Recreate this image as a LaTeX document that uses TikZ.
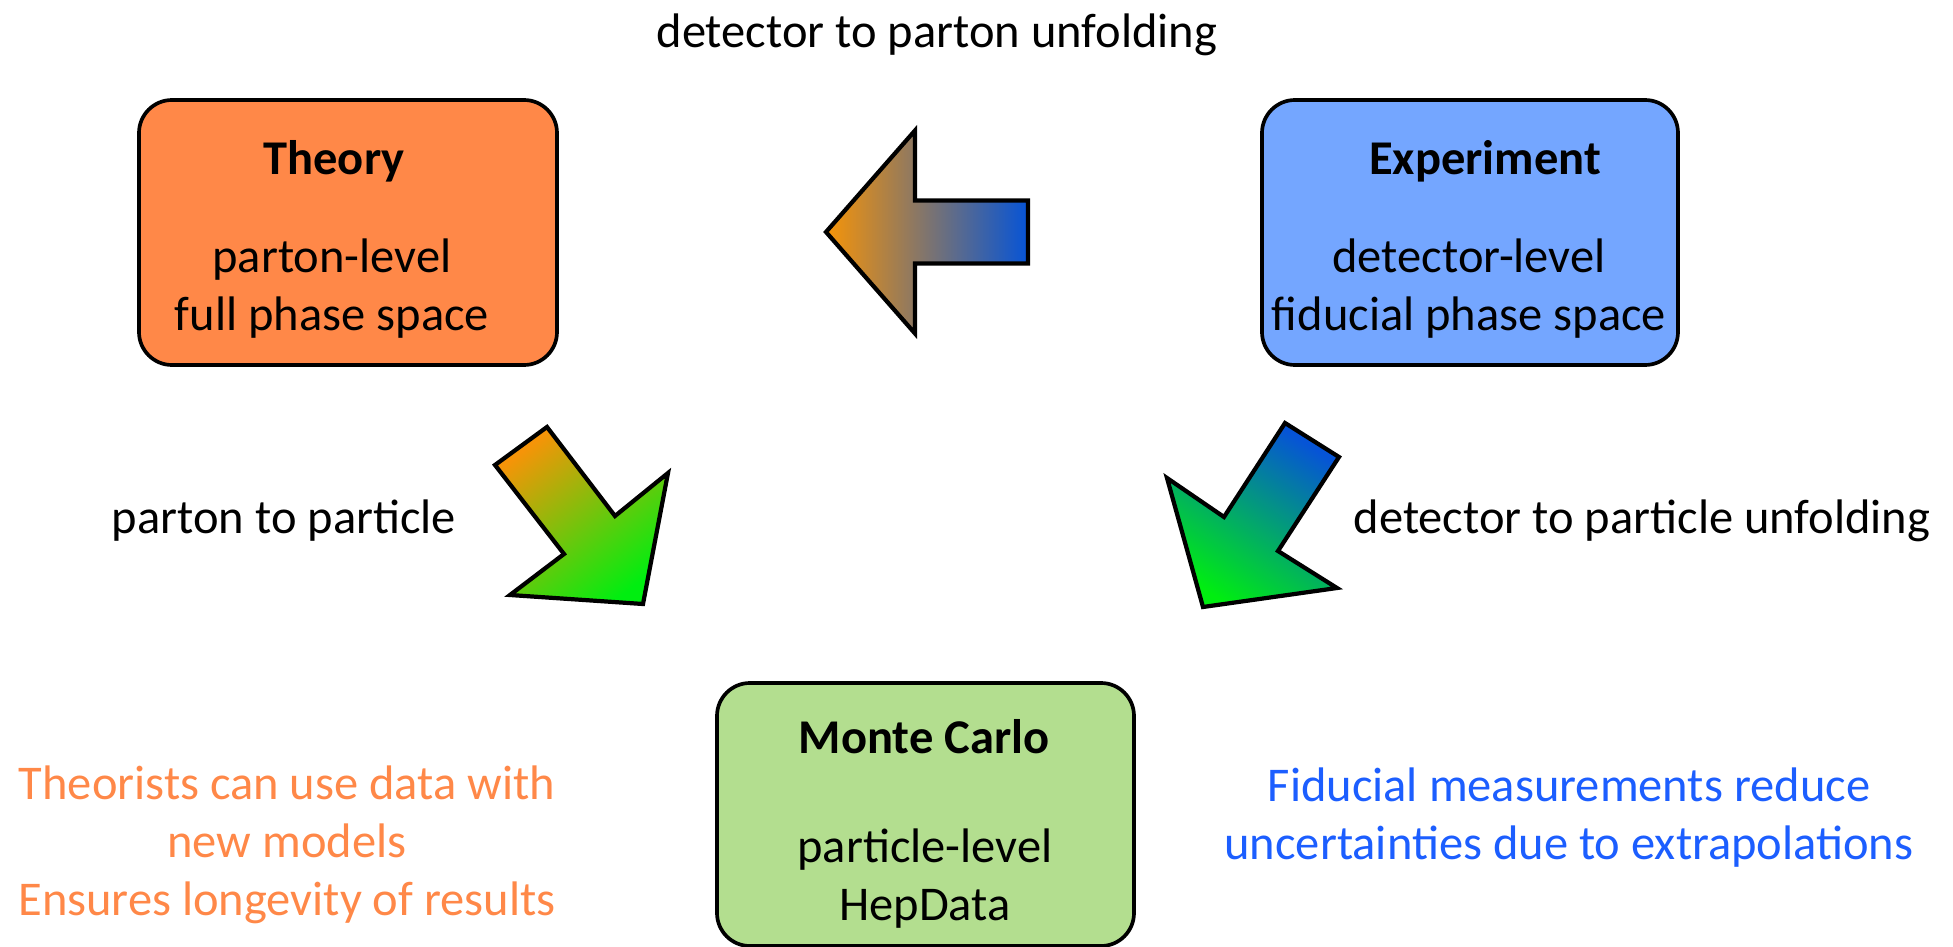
\documentclass[tikz,border=0pt]{standalone}
\usepackage{fontspec}
\setmainfont{Carlito}
\usepackage{tikz}
\usepackage{xcolor}

\definecolor{theorycol}{RGB}{255,136,72}
\definecolor{exptcol}{RGB}{116,166,255}
\definecolor{mccol}{RGB}{179,222,143}
\definecolor{fidblue}{RGB}{28,94,255}
\definecolor{arrorange}{RGB}{246,148,8}
\definecolor{arrblue}{RGB}{6,84,214}
\definecolor{arrgreen}{RGB}{0,238,16}

\tikzset{
  txt/.style={font=\fontsize{13.8}{16.4}\selectfont, inner sep=0pt},
  head/.style={font=\fontsize{13.8}{16.4}\selectfont\bfseries, inner sep=0pt},
  box/.style={draw, line width=1.05pt, rounded corners=0.33cm, inner sep=0pt},
  blockarrow/.style={draw, line width=1.2pt, line join=miter}
}

\begin{document}
\begin{tikzpicture}
  \useasboundingbox (0,0) rectangle (19.53,9.46);

  % the three boxes
  \node (theory) [box, fill=theorycol, minimum width=4.18cm, minimum height=2.65cm]
    at (3.48,7.135) {};
  \node (expt) [box, fill=exptcol, minimum width=4.16cm, minimum height=2.65cm]
    at (14.70,7.135) {};
  \node (mc) [box, fill=mccol, minimum width=4.17cm, minimum height=2.63cm]
    at (9.255,1.315) {};

  % base of a multi-line node sits on its last line
  \node (theoryhead) [head, anchor=base] at (3.34,7.71) {Theory};
  \node (theorybody) [txt, anchor=base, align=center] at (3.32,6.16)
    {parton-level\\full phase space};
  \node (expthead) [head, anchor=base] at (14.85,7.71) {Experiment};
  \node (exptbody) [txt, anchor=base, align=center] at (14.69,6.16)
    {detector-level\\fiducial phase space};
  \node (mchead) [head, anchor=base] at (9.24,1.93) {Monte Carlo};
  \node (mcbody) [txt, anchor=base, align=center] at (9.25,0.26)
    {particle-level\\HepData};

  % block arrows between the boxes
  \draw[blockarrow, left color=arrorange, right color=arrblue]
    (8.26,7.14) -- (9.15,8.155) -- (9.15,7.455) -- (10.28,7.455)
    -- (10.28,6.825) -- (9.15,6.825) -- (9.15,6.125) -- cycle;
  \draw[blockarrow, top color=arrorange, bottom color=arrgreen, shading angle=38]
    (4.95,4.81) -- (5.47,5.19) -- (6.15,4.30) -- (6.68,4.73)
    -- (6.43,3.42) -- (5.10,3.51) -- (5.64,3.92) -- cycle;
  \draw[blockarrow, top color=arrblue, bottom color=arrgreen, shading angle=-33]
    (12.85,5.23) -- (13.39,4.89) -- (12.78,3.95) -- (13.37,3.58)
    -- (12.03,3.39) -- (11.67,4.68) -- (12.24,4.29) -- cycle;

  % arrow labels
  \node (unfoldtop) [txt, anchor=base] at (9.37,8.98) {detector to parton unfolding};
  \node (partlab) [txt, anchor=base] at (2.84,4.13) {parton to particle};
  \node (detlab) [txt, anchor=base] at (16.42,4.13) {detector to particle unfolding};

  % remarks
  \node (theorynote) [txt, anchor=base, align=center, text=theorycol] at (2.87,0.31)
    {Theorists can use data with\\new models\\Ensures longevity of results};
  \node (fidnote) [txt, anchor=base, align=center, text=fidblue] at (15.69,0.87)
    {Fiducial measurements reduce\\uncertainties due to extrapolations};
\end{tikzpicture}
\end{document}
